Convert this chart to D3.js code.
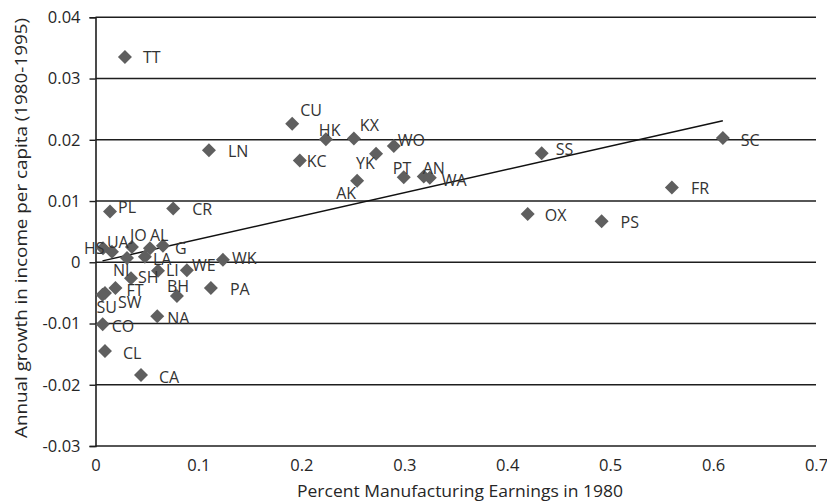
<!DOCTYPE html>
<html>
<head>
<meta charset="utf-8">
<script src="https://cdn.jsdelivr.net/npm/d3@7"></script>
<style>
html,body{margin:0;padding:0;background:#fff;}
svg{display:block;}
text{font-family:"Open Sans",sans-serif;}
</style>
</head>
<body>
<div id="chart"></div>
<script>
// ---- data ----
const codes = ["TT","CU","HK","KX","WO","YK","KC","LN","AK","PT","AN","WA","SS","SC","FR","OX","PS","PL","CR",
  "HS","UA","JO","AL","G","LA","NI","SH","LI","WE","WK","BH","PA","FT","SW","SU","CO","NA","CL","CA"];
const manufacturing = [0.0286,0.1911,0.2238,0.2510,0.2898,0.2726,0.1985,0.1102,0.2542,0.2995,0.3189,0.3248,0.4335,0.6095,0.5600,0.4199,0.4917,0.0141,0.0755,
  0.0073,0.0160,0.0354,0.0529,0.0655,0.0480,0.0306,0.0345,0.0607,0.0888,0.1238,0.0791,0.1121,0.0194,0.0092,0.0068,0.0070,0.0600,0.0092,0.0442];
const growth = [0.0335,0.0226,0.0201,0.0202,0.0190,0.0177,0.0166,0.0183,0.0133,0.0139,0.0140,0.0138,0.0178,0.0203,0.0122,0.0079,0.0067,0.0083,0.0088,
  0.0023,0.0017,0.0025,0.0023,0.0027,0.0009,0.0007,-0.0026,-0.0014,-0.0013,0.0004,-0.0055,-0.0042,-0.0042,-0.0050,-0.0053,-0.0101,-0.0088,-0.0145,-0.0184];
const xTicks = [0,0.1,0.2,0.3,0.4,0.5,0.6,0.7];
const xTickLabels = ["0","0.1","0.2","0.3","0.4","0.5","0.6","0.7"];
const yTicks = [-0.03,-0.02,-0.01,0,0.01,0.02,0.03,0.04];
const yTickLabels = ["-0.03","-0.02","-0.01","0","0.01","0.02","0.03","0.04"];
const xTitle = "Percent Manufacturing Earnings in 1980";
const yTitle = "Annual growth in income per capita (1980-1995)";

// ---- label placement (pixel offsets, layout only) ----
const labelOffsets = {
  TT:[18,0],CU:[8,-14],HK:[-7,-9],KX:[6,-13],WO:[4,-6],YK:[-20,9],KC:[7,1],LN:[19,1],AK:[-21,12],
  PT:[-11,-9],AN:[-1,-8],WA:[12,2],SS:[14,-4],SC:[18,2],FR:[19,1],OX:[17,1],PS:[19,1],PL:[8,-4],CR:[19,1],
  HS:[-19,0],UA:[-5,-10],JO:[-2,-12],AL:[0,-13],G:[12,3],LA:[8,2],NI:[-14,12],SH:[7,-1],LI:[8,-1],
  WE:[5,-5],WK:[9,-2],BH:[-10,-10],PA:[19,1],FT:[11,2],SW:[13,9],SU:[-6,13],CO:[9,2],NA:[10,2],CL:[18,2],CA:[18,2]
};

const W = 827, H = 502;
const svg = d3.select("#chart").append("svg").attr("width", W).attr("height", H);

const x = d3.scaleLinear().domain([0, 0.7]).range([95.5, 816]);
const y = d3.scaleLinear().domain([-0.03, 0.04]).range([446, 17.3]);

const pts = codes.map((c,i)=>({code:c, x:manufacturing[i], y:growth[i]}));

// gridlines
svg.append("g").selectAll("line").data(yTicks).join("line")
  .attr("x1", x(0)).attr("x2", x(0.7))
  .attr("y1", d=>y(d)).attr("y2", d=>y(d))
  .attr("stroke", "#1e1e1e").attr("stroke-width", 1.4);

// y axis
const yAxis = d3.axisLeft(y).tickValues(yTicks).tickSize(6).tickPadding(9)
  .tickFormat((d,i)=>yTickLabels[i]);
const gy = svg.append("g").attr("transform", `translate(${x(0)},0)`).call(yAxis);
gy.select(".domain").attr("stroke","#1e1e1e").attr("stroke-width",1.6);
gy.selectAll(".tick line").attr("stroke","#1e1e1e").attr("stroke-width",1.4);
gy.selectAll(".tick text").attr("font-size",16.5).attr("fill","#262626")
  .attr("font-family","'Open Sans',sans-serif");

// x axis labels (no tick marks)
const xAxis = d3.axisBottom(x).tickValues(xTicks).tickSize(0).tickPadding(13)
  .tickFormat((d,i)=>xTickLabels[i]);
const gx = svg.append("g").attr("transform", `translate(0,${y(-0.03)})`).call(xAxis);
gx.select(".domain").remove();
gx.selectAll(".tick text").attr("font-size",16.5).attr("fill","#262626")
  .attr("font-family","'Open Sans',sans-serif");

// trend line (least squares)
const mx = d3.mean(manufacturing), my = d3.mean(growth);
const slope = d3.sum(pts, p=>(p.x-mx)*(p.y-my)) / d3.sum(pts, p=>(p.x-mx)*(p.x-mx));
const intercept = my - slope*mx;
const xr = d3.extent(manufacturing);
svg.append("path")
  .datum(xr.map(v=>[v, intercept + slope*v]))
  .attr("d", d3.line().x(d=>x(d[0])).y(d=>y(d[1])))
  .attr("fill","none").attr("stroke","#111").attr("stroke-width",1.5);

// markers
const sym = d3.symbol().type(d3.symbolSquare).size(98);
svg.append("g").selectAll("path").data(pts).join("path")
  .attr("d", sym)
  .attr("transform", d=>`translate(${x(d.x)},${y(d.y)}) rotate(45)`)
  .attr("fill", "#5f5f5f");

// data labels
svg.append("g").selectAll("text").data(pts).join("text")
  .attr("x", d=>x(d.x) + labelOffsets[d.code][0])
  .attr("y", d=>y(d.y) + labelOffsets[d.code][1])
  .attr("dy","0.36em")
  .attr("font-size",16).attr("fill","#333")
  .text(d=>d.code);

// axis titles
svg.append("text")
  .attr("x", 460).attr("y", 497)
  .attr("text-anchor","middle").attr("font-size",17).attr("fill","#262626")
  .attr("textLength",326).attr("lengthAdjust","spacingAndGlyphs")
  .text(xTitle);
svg.append("text")
  .attr("transform","translate(27,228) rotate(-90)")
  .attr("text-anchor","middle").attr("font-size",17).attr("fill","#262626")
  .attr("textLength",420).attr("lengthAdjust","spacingAndGlyphs")
  .text(yTitle);
</script>
</body>
</html>
